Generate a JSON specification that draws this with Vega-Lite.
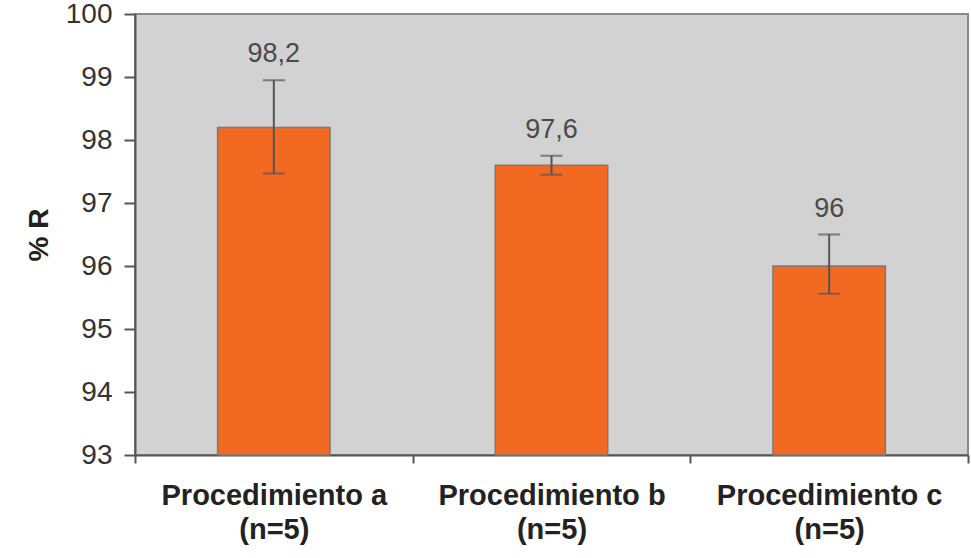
{
  "$schema": "https://vega.github.io/schema/vega-lite/v6.json",
  "width": 833,
  "height": 441,
  "autosize": "none",
  "padding": {"left": 135, "top": 14, "right": 3, "bottom": 103},
  "background": "white",
  "config": {
    "view": {"fill": "#D2D2D2", "stroke": "#8A8A8A", "strokeWidth": 2},
    "font": "Liberation Sans"
  },
  "data": {
    "values": [
      {"proc": "Procedimiento a|(n=5)", "mean": 98.2, "lo": 97.47, "hi": 98.95, "label": "98,2"},
      {"proc": "Procedimiento b|(n=5)", "mean": 97.6, "lo": 97.45, "hi": 97.75, "label": "97,6"},
      {"proc": "Procedimiento c|(n=5)", "mean": 96.0, "lo": 95.56, "hi": 96.5, "label": "96"}
    ]
  },
  "encoding": {
    "x": {
      "field": "proc",
      "type": "nominal",
      "sort": null,
      "scale": {"paddingInner": 0, "paddingOuter": 0},
      "axis": {
        "title": null,
        "labelAngle": 0,
        "labelExpr": "split(datum.label, '|')",
        "labelFont": "Liberation Sans",
        "labelFontWeight": "bold",
        "labelFontSize": 29,
        "labelColor": "#222222",
        "labelLineHeight": 34,
        "labelLimit": 0,
        "labelPadding": 18,
        "tickBand": "extent",
        "tickSize": 8,
        "tickColor": "#555555",
        "tickWidth": 2,
        "domainColor": "#555555",
        "domainWidth": 2
      }
    }
  },
  "layer": [
    {
      "mark": {"type": "bar", "width": {"band": 0.405}, "color": "#F26A22", "stroke": "#7A7A7A", "strokeWidth": 1.5},
      "encoding": {
        "y": {
          "field": "mean",
          "type": "quantitative",
          "scale": {"domain": [93, 100], "nice": false, "zero": false},
          "axis": {
            "title": "% R",
            "titleFont": "Liberation Sans",
            "titleFontSize": 28,
            "titleFontWeight": "bold",
            "titleColor": "#222222",
            "titlePadding": 12,
            "values": [93, 94, 95, 96, 97, 98, 99, 100],
            "format": "d",
            "labelFont": "Liberation Sans",
            "labelFontSize": 28,
            "labelColor": "#333333",
            "labelPadding": 12,
            "tickSize": 11,
            "tickColor": "#555555",
            "tickWidth": 2,
            "domainColor": "#555555",
            "domainWidth": 2,
            "grid": false
          }
        },
        "y2": {"datum": 93}
      }
    },
    {
      "mark": {"type": "rule", "color": "#555555", "strokeWidth": 2},
      "encoding": {
        "y": {"field": "lo", "type": "quantitative"},
        "y2": {"field": "hi"}
      }
    },
    {
      "mark": {"type": "tick", "color": "#555555", "thickness": 2, "size": 22, "orient": "horizontal"},
      "encoding": {"y": {"field": "lo", "type": "quantitative"}}
    },
    {
      "mark": {"type": "tick", "color": "#555555", "thickness": 2, "size": 22, "orient": "horizontal"},
      "encoding": {"y": {"field": "hi", "type": "quantitative"}}
    },
    {
      "mark": {"type": "text", "baseline": "bottom", "dy": -12, "fontSize": 27, "color": "#4A4A4A", "font": "Liberation Sans"},
      "encoding": {
        "y": {"field": "hi", "type": "quantitative"},
        "text": {"field": "label"}
      }
    }
  ]
}
